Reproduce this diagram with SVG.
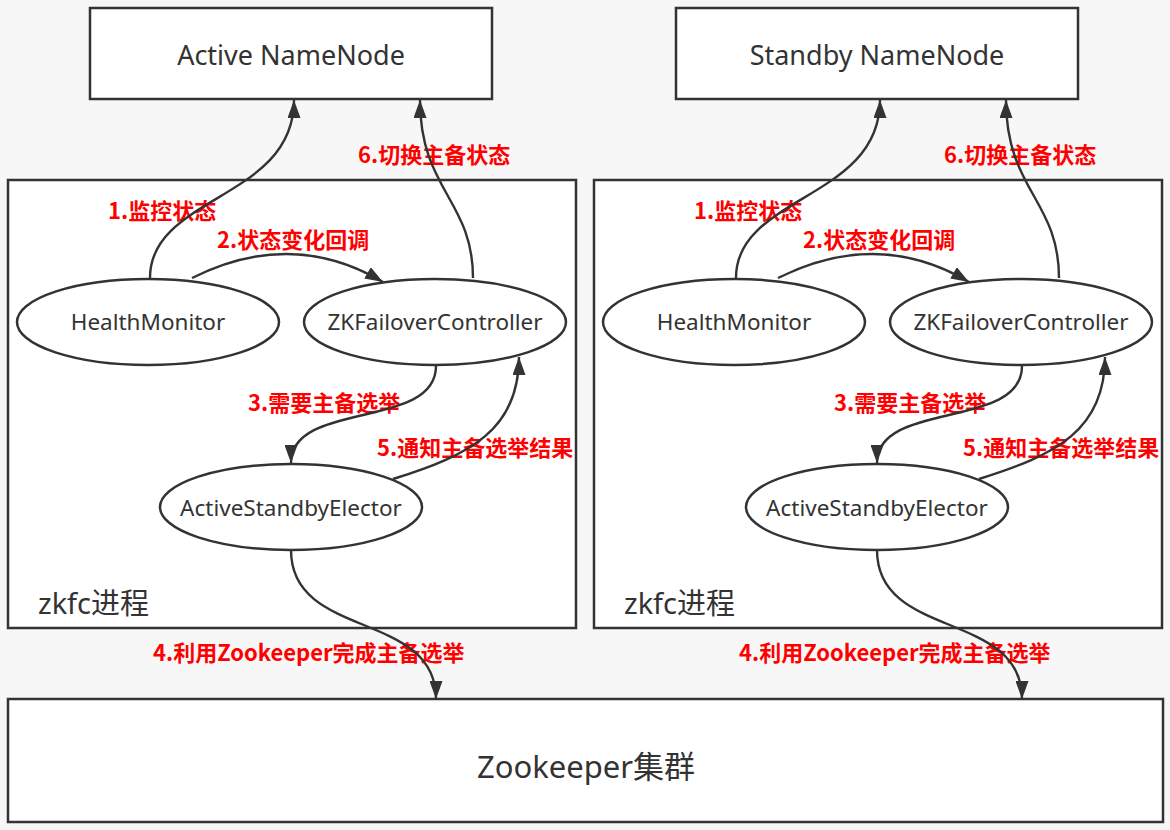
<svg xmlns="http://www.w3.org/2000/svg" width="1170" height="830" viewBox="0 0 1170 830">
<defs>
<style>
.box{fill:#ffffff;stroke:#333333;stroke-width:2.5}
.nt{font-family:"Noto Sans","Open Sans","Noto Sans CJK SC",sans-serif;fill:#333333;text-anchor:middle}
.lb{font-family:"Noto Sans CJK SC","Noto Sans",sans-serif;font-weight:bold;font-size:22px;fill:#ff0000}
.edge{fill:none;stroke:#333333;stroke-width:2.4;marker-end:url(#arr)}
</style>
<marker id="arr" viewBox="0 0 18 13" markerWidth="18" markerHeight="13" refX="18" refY="6.5" orient="auto" markerUnits="userSpaceOnUse">
<path d="M0,0 L18,6.5 L0,13 z" fill="#333333"/>
</marker>
</defs>
<rect x="0" y="0" width="1170" height="830" fill="#f7f7f7"/>

<g id="active-namenode">
<rect class="box" x="90" y="8" width="402" height="91"/>
<text class="nt" x="291" y="65" font-size="27">Active NameNode</text>
</g>
<g id="standby-namenode">
<rect class="box" x="676" y="8" width="402" height="91"/>
<text class="nt" x="877" y="65" font-size="27">Standby NameNode</text>
</g>

<g id="zkfc-left">
<rect class="box" x="8" y="180" width="568" height="448"/>
<text class="nt" x="38" y="614" font-size="29" style="text-anchor:start">zkfc进程</text>
</g>
<g id="zkfc-right">
<rect class="box" x="594" y="180" width="568" height="448"/>
<text class="nt" x="624" y="614" font-size="29" style="text-anchor:start">zkfc进程</text>
</g>

<g id="healthmonitor-left">
<ellipse class="box" cx="148" cy="322" rx="131" ry="43"/>
<text class="nt" x="148" y="330" font-size="22.5">HealthMonitor</text>
</g>
<g id="zkfailovercontroller-left">
<ellipse class="box" cx="435" cy="322" rx="131" ry="43"/>
<text class="nt" x="435" y="330" font-size="22.5">ZKFailoverController</text>
</g>
<g id="activestandbyelector-left">
<ellipse class="box" cx="291" cy="507" rx="131" ry="43"/>
<text class="nt" x="291" y="516" font-size="22.5">ActiveStandbyElector</text>
</g>

<g id="healthmonitor-right">
<ellipse class="box" cx="734" cy="322" rx="131" ry="43"/>
<text class="nt" x="734" y="330" font-size="22.5">HealthMonitor</text>
</g>
<g id="zkfailovercontroller-right">
<ellipse class="box" cx="1021" cy="322" rx="131" ry="43"/>
<text class="nt" x="1021" y="330" font-size="22.5">ZKFailoverController</text>
</g>
<g id="activestandbyelector-right">
<ellipse class="box" cx="877" cy="507" rx="131" ry="43"/>
<text class="nt" x="877" y="516" font-size="22.5">ActiveStandbyElector</text>
</g>

<g id="zookeeper">
<rect class="box" x="8" y="699" width="1155" height="123"/>
<text class="nt" x="586" y="778" font-size="31">Zookeeper集群</text>
</g>

<g id="connectors">
<g id="labels">
<text class="lb" x="108" y="219">1.监控状态</text>
<text class="lb" x="217" y="248">2.状态变化回调</text>
<text class="lb" x="248" y="411">3.需要主备选举</text>
<text class="lb" x="153" y="661">4.利用Zookeeper完成主备选举</text>
<text class="lb" x="377" y="456">5.通知主备选举结果</text>
<text class="lb" x="358" y="163">6.切换主备状态</text>
<text class="lb" x="694" y="219">1.监控状态</text>
<text class="lb" x="803" y="248">2.状态变化回调</text>
<text class="lb" x="834" y="411">3.需要主备选举</text>
<text class="lb" x="739" y="661">4.利用Zookeeper完成主备选举</text>
<text class="lb" x="963" y="456">5.通知主备选举结果</text>
<text class="lb" x="944" y="163">6.切换主备状态</text>
</g>
<path class="edge" d="M150,278 C150,195 294,200 294,100"/>
<path class="edge" d="M192,278 Q292,228 383,282"/>
<path class="edge" d="M436,366 C436,430 291,400 291,463"/>
<path class="edge" d="M291,550 C291,640 436,610 436,699"/>
<path class="edge" d="M393,479 C470,455 519,430 519,357"/>
<path class="edge" d="M473,278 C473,200 420,190 420,100"/>
<path class="edge" d="M736,278 C736,195 880,200 880,100"/>
<path class="edge" d="M778,278 Q878,228 969,282"/>
<path class="edge" d="M1022,366 C1022,430 877,400 877,463"/>
<path class="edge" d="M877,550 C877,640 1022,610 1022,699"/>
<path class="edge" d="M979,479 C1056,455 1105,430 1105,357"/>
<path class="edge" d="M1059,278 C1059,200 1006,190 1006,100"/>
</g>
</svg>
